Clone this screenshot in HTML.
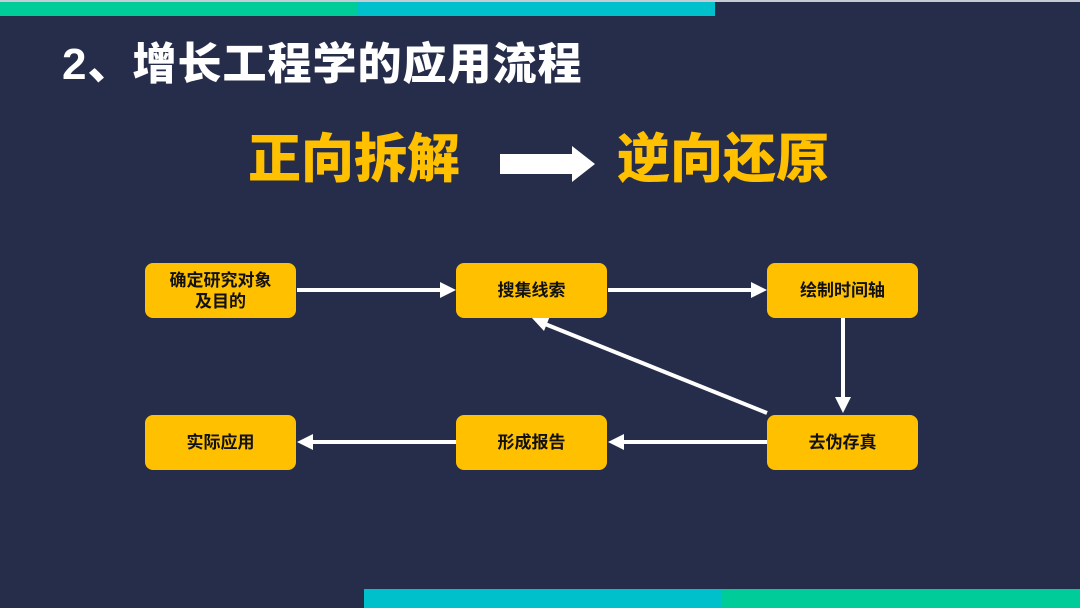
<!DOCTYPE html>
<html><head><meta charset="utf-8"><style>
body{margin:0;width:1080px;height:608px;background:#262d4b;position:relative;overflow:hidden;font-family:"Liberation Sans","Noto Sans CJK SC",sans-serif}
.b{position:absolute;background:#ffc000;border-radius:8px;width:151px;height:55px;display:flex;align-items:center;justify-content:center;text-align:center;font-weight:bold;font-size:17px;line-height:21px;color:#111}
.t{position:absolute;font-weight:900;white-space:nowrap}
</style></head><body>
<div style="position:absolute;left:0;top:0;width:1080px;height:2px;background:#c8cbd3"></div>
<div style="position:absolute;left:0;top:2px;width:357px;height:14px;background:#00cc99"></div>
<div style="position:absolute;left:357px;top:2px;width:358px;height:14px;background:#00c0cc"></div>
<div style="position:absolute;left:364px;top:589px;width:358px;height:19px;background:#00c0cc"></div>
<div style="position:absolute;left:722px;top:589px;width:358px;height:19px;background:#00cc99"></div>
<div class="t" style="left:62px;top:38px;font-size:44px;color:#fff;line-height:54px;letter-spacing:1px">2、增长工程学的应用流程</div>
<div class="t" style="left:248px;top:128px;font-size:53px;color:#ffc000;line-height:64px">正向拆解</div>
<div class="t" style="left:617px;top:128px;font-size:53px;color:#ffc000;line-height:64px">逆向还原</div>
<svg width="1080" height="608" style="position:absolute;left:0;top:0">
<polygon points="500,154 572,154 572,146 595,164 572,182 572,174 500,174" fill="#fff"/>
<g stroke="#fff" stroke-width="4" fill="#fff">
<line x1="297" y1="290" x2="442" y2="290"/><polygon points="456,290 440,282 440,298" stroke="none"/>
<line x1="608" y1="290" x2="753" y2="290"/><polygon points="767,290 751,282 751,298" stroke="none"/>
<line x1="843" y1="318" x2="843" y2="399"/><polygon points="843,413 835,397 851,397" stroke="none"/>
<line x1="767" y1="413" x2="545" y2="324"/><polygon points="532,318 550,316 544,331" stroke="none"/>
<line x1="767" y1="442" x2="622" y2="442"/><polygon points="608,442 624,434 624,450" stroke="none"/>
<line x1="456" y1="442" x2="311" y2="442"/><polygon points="297,442 313,434 313,450" stroke="none"/>
</g></svg>
<div class="b" style="left:145px;top:263px">确定研究对象<br>及目的</div>
<div class="b" style="left:456px;top:263px">搜集线索</div>
<div class="b" style="left:767px;top:263px">绘制时间轴</div>
<div class="b" style="left:145px;top:415px">实际应用</div>
<div class="b" style="left:456px;top:415px">形成报告</div>
<div class="b" style="left:767px;top:415px">去伪存真</div>
</body></html>
